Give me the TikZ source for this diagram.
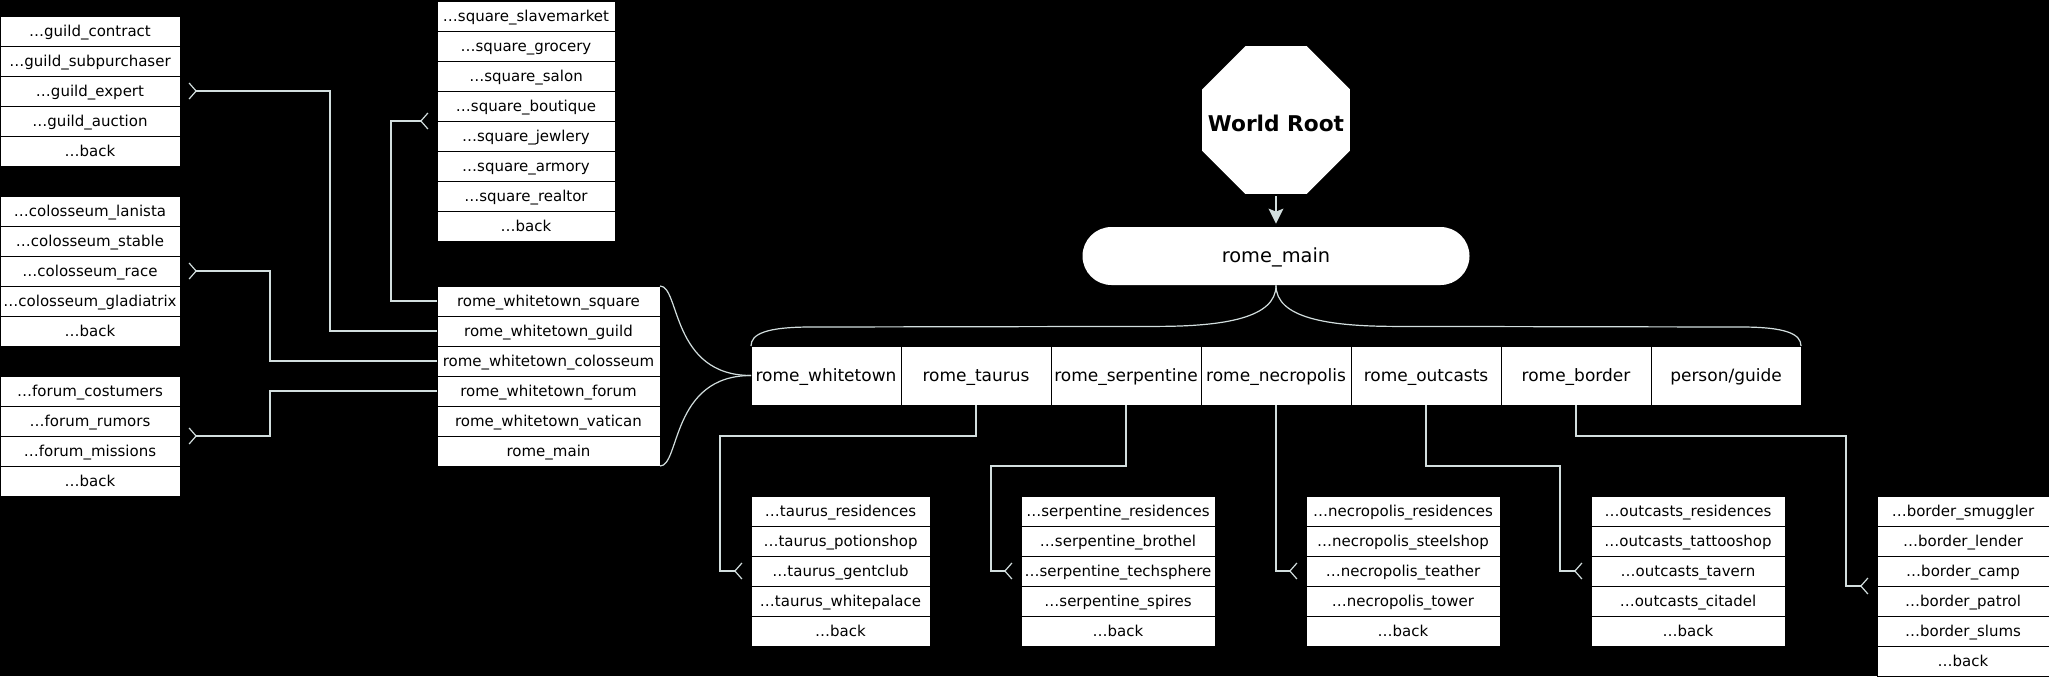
\documentclass[tikz,border=0pt]{standalone}
\usepackage{fontspec}
\setmainfont{DejaVu Sans}
\usetikzlibrary{arrows.meta,calc,positioning,shapes.geometric}
\definecolor{linkgray}{HTML}{D2DEDE}

\begin{document}
\begin{tikzpicture}[x=0.5pt,y=-0.5pt,
	link/.style={draw=linkgray,line width=0.6pt},
	many/.style={-{Straight Barb[reversed,length=3.5pt,width=8pt]},shorten >=4.25pt},
	item/.style={draw=black,fill=white,line width=0.5pt,minimum width=#1,minimum height=15pt,
		inner sep=0pt,outer sep=0pt,text height=6.2pt,text depth=0.5pt,font=\fontsize{7.5}{9}\selectfont},
	cell/.style={draw=black,fill=white,line width=0.5pt,minimum width=75pt,minimum height=29.5pt,
		inner sep=0pt,outer sep=0pt,text height=7pt,text depth=0.8pt,font=\fontsize{8.5}{10}\selectfont}]
	\path[use as bounding box,fill=black] (0,0) rectangle (2049,676);

	% root and main menu
	\node[regular polygon,regular polygon sides=8,minimum size=80pt,fill=white,inner sep=0pt,
		text height=11pt,text depth=0pt,font=\bfseries\fontsize{10.85}{12}\selectfont] (root) at (1276,120) {\makebox[0pt]{World Root}};
	\node[rectangle,rounded corners=14.5pt,fill=white,minimum width=193.5pt,minimum height=29pt,
		text height=7pt,text depth=0.7pt,font=\fontsize{9.7}{11}\selectfont] (main) at (1276,256) {rome\_main};
	\draw[link,-{Stealth[length=7.5pt,width=7.5pt,inset=1.5pt]},shorten <=1pt,shorten >=1.5pt] (root.south) -- (main.north);

	% districts
	\node[cell] (whitetown) at (826,375.5) {rome\_whitetown};
	\node[cell,right=0pt of whitetown] (taurus) {rome\_taurus};
	\node[cell,right=0pt of taurus] (serpentine) {rome\_serpentine};
	\node[cell,right=0pt of serpentine] (necropolis) {rome\_necropolis};
	\node[cell,right=0pt of necropolis] (outcasts) {rome\_outcasts};
	\node[cell,right=0pt of outcasts] (border) {rome\_border};
	\node[cell,right=0pt of border] (guide) {person/guide};

	\draw[link] (main.south) .. controls +(0,32) and +(70,0) .. ($(main.south)+(-120,41)$)
		-- ($(whitetown.north west)+(60,-19)$) .. controls +(-45,0) and +(0,-12) .. (whitetown.north west);
	\draw[link] (main.south) .. controls +(0,32) and +(-70,0) .. ($(main.south)+(120,41)$)
		-- ($(guide.north east)+(-60,-19)$) .. controls +(45,0) and +(0,-12) .. (guide.north east);

	% whitetown menu
	\node[item=111.5pt] (wt_1) at (548.5,301) {rome\_whitetown\_square};
	\node[item=111.5pt,below=0pt of wt_1] (wt_2) {rome\_whitetown\_guild};
	\node[item=111.5pt,below=0pt of wt_2] (wt_3) {rome\_whitetown\_colosseum};
	\node[item=111.5pt,below=0pt of wt_3] (wt_4) {rome\_whitetown\_forum};
	\node[item=111.5pt,below=0pt of wt_4] (wt_5) {rome\_whitetown\_vatican};
	\node[item=111.5pt,below=0pt of wt_5] (wt_6) {rome\_main};

	\draw[link] (wt_1.north east) .. controls +(20,0) and +(-80,0) .. (whitetown.west);
	\draw[link] (whitetown.west) .. controls +(-80,0) and +(20,0) .. (wt_6.south east);

	% square
	\node[item=89pt] (square_1) at (526,16) {…square\_slavemarket};
	\node[item=89pt,below=0pt of square_1] (square_2) {…square\_grocery};
	\node[item=89pt,below=0pt of square_2] (square_3) {…square\_salon};
	\node[item=89pt,below=0pt of square_3] (square_4) {…square\_boutique};
	\node[item=89pt,below=0pt of square_4] (square_5) {…square\_jewlery};
	\node[item=89pt,below=0pt of square_5] (square_6) {…square\_armory};
	\node[item=89pt,below=0pt of square_6] (square_7) {…square\_realtor};
	\node[item=89pt,below=0pt of square_7] (square_8) {…back};

	% guild
	\node[item=90pt] (guild_1) at (90,31) {…guild\_contract};
	\node[item=90pt,below=0pt of guild_1] (guild_2) {…guild\_subpurchaser};
	\node[item=90pt,below=0pt of guild_2] (guild_3) {…guild\_expert};
	\node[item=90pt,below=0pt of guild_3] (guild_4) {…guild\_auction};
	\node[item=90pt,below=0pt of guild_4] (guild_5) {…back};

	% colosseum
	\node[item=90pt] (colosseum_1) at (90,211) {…colosseum\_lanista};
	\node[item=90pt,below=0pt of colosseum_1] (colosseum_2) {…colosseum\_stable};
	\node[item=90pt,below=0pt of colosseum_2] (colosseum_3) {…colosseum\_race};
	\node[item=90pt,below=0pt of colosseum_3] (colosseum_4) {…colosseum\_gladiatrix};
	\node[item=90pt,below=0pt of colosseum_4] (colosseum_5) {…back};

	% forum
	\node[item=90pt] (forum_1) at (90,391) {…forum\_costumers};
	\node[item=90pt,below=0pt of forum_1] (forum_2) {…forum\_rumors};
	\node[item=90pt,below=0pt of forum_2] (forum_3) {…forum\_missions};
	\node[item=90pt,below=0pt of forum_3] (forum_4) {…back};

	\draw[link,many] (wt_1.west) -- ++(-46,0) |- (square_4.south west);
	\draw[link,many] (wt_2.west) -- ++(-107,0) |- (guild_3.east);
	\draw[link,many] (wt_3.west) -- ++(-167,0) |- (colosseum_3.east);
	\draw[link,many] (wt_4.west) -- ++(-167,0) |- (forum_2.south east);

	% taurus
	\node[item=89.5pt] (taurus_1) at (840.5,511) {…taurus\_residences};
	\node[item=89.5pt,below=0pt of taurus_1] (taurus_2) {…taurus\_potionshop};
	\node[item=89.5pt,below=0pt of taurus_2] (taurus_3) {…taurus\_gentclub};
	\node[item=89.5pt,below=0pt of taurus_3] (taurus_4) {…taurus\_whitepalace};
	\node[item=89.5pt,below=0pt of taurus_4] (taurus_5) {…back};

	% serpentine
	\node[item=97pt] (serpentine_1) at (1118,511) {…serpentine\_residences};
	\node[item=97pt,below=0pt of serpentine_1] (serpentine_2) {…serpentine\_brothel};
	\node[item=97pt,below=0pt of serpentine_2] (serpentine_3) {…serpentine\_techsphere};
	\node[item=97pt,below=0pt of serpentine_3] (serpentine_4) {…serpentine\_spires};
	\node[item=97pt,below=0pt of serpentine_4] (serpentine_5) {…back};

	% necropolis
	\node[item=97pt] (necropolis_1) at (1403,511) {…necropolis\_residences};
	\node[item=97pt,below=0pt of necropolis_1] (necropolis_2) {…necropolis\_steelshop};
	\node[item=97pt,below=0pt of necropolis_2] (necropolis_3) {…necropolis\_teather};
	\node[item=97pt,below=0pt of necropolis_3] (necropolis_4) {…necropolis\_tower};
	\node[item=97pt,below=0pt of necropolis_4] (necropolis_5) {…back};

	% outcasts
	\node[item=97pt] (outcasts_1) at (1688,511) {…outcasts\_residences};
	\node[item=97pt,below=0pt of outcasts_1] (outcasts_2) {…outcasts\_tattooshop};
	\node[item=97pt,below=0pt of outcasts_2] (outcasts_3) {…outcasts\_tavern};
	\node[item=97pt,below=0pt of outcasts_3] (outcasts_4) {…outcasts\_citadel};
	\node[item=97pt,below=0pt of outcasts_4] (outcasts_5) {…back};

	% border
	\node[item=86pt] (border_1) at (1963,511) {…border\_smuggler};
	\node[item=86pt,below=0pt of border_1] (border_2) {…border\_lender};
	\node[item=86pt,below=0pt of border_2] (border_3) {…border\_camp};
	\node[item=86pt,below=0pt of border_3] (border_4) {…border\_patrol};
	\node[item=86pt,below=0pt of border_4] (border_5) {…border\_slums};
	\node[item=86pt,below=0pt of border_5] (border_6) {…back};

	\draw[link,many] (taurus.south) |- ++(-256,31) |- (taurus_3.west);
	\draw[link,many] (serpentine.south) |- ++(-135,61) |- (serpentine_3.west);
	\draw[link,many] (necropolis.south) |- (necropolis_3.west);
	\draw[link,many] (outcasts.south) |- ++(134,61) |- (outcasts_3.west);
	\draw[link,many] (border.south) |- ++(270,31) |- (border_3.south west);
\end{tikzpicture}
\end{document}
